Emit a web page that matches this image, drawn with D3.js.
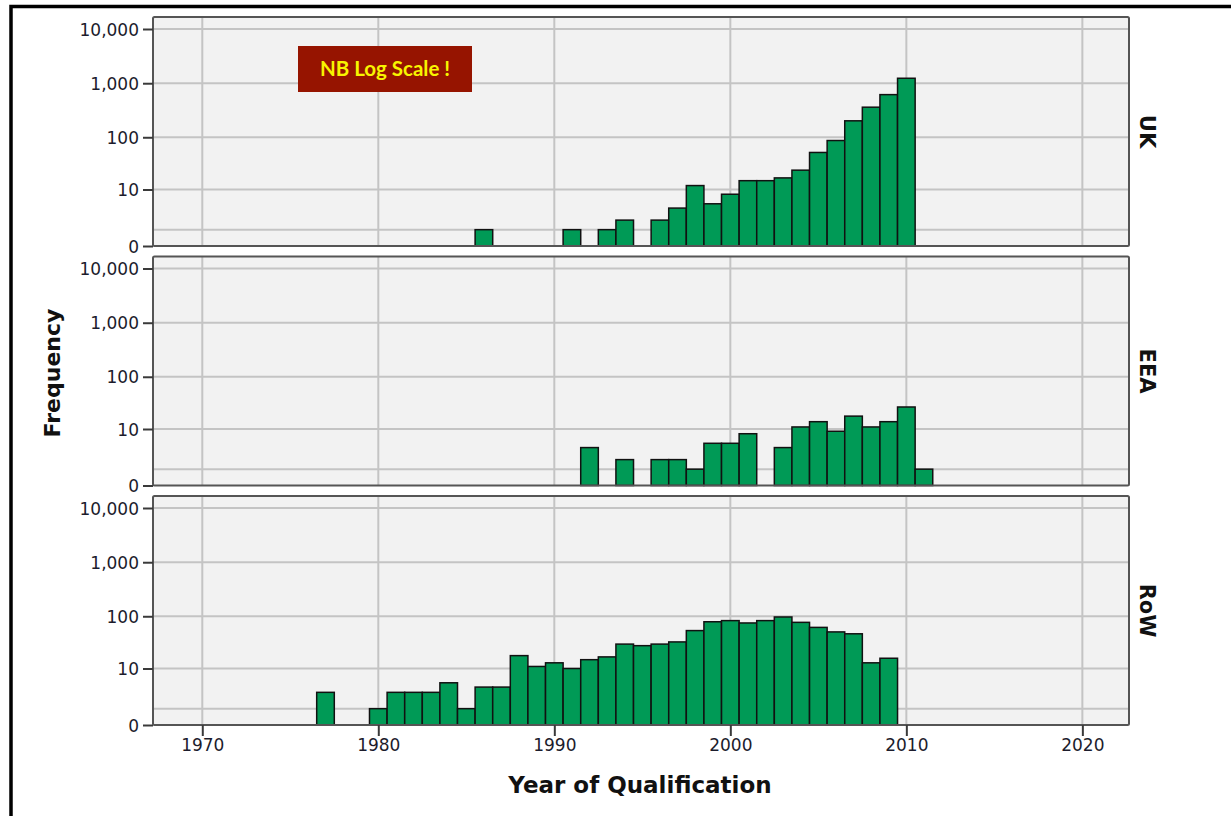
<!DOCTYPE html>
<html>

<head>
  <meta charset="utf-8">
  <title>Year of Qualification</title>
  <style>
    body {
      margin: 0;
      background: #fff;
      font-family: "DejaVu Sans", sans-serif;
    }

    .grid line {
      stroke: #c4c4c4;
      stroke-width: 2;
    }

    .bar {
      fill: #009a56;
      stroke: #111;
      stroke-width: 1.5;
    }

    .axis text {
      font-family: "DejaVu Sans", sans-serif;
      font-size: 17px;
      fill: #1c1c2c;
    }

    .axis line,
    .axis path {
      stroke: #3a3a3a;
      stroke-width: 2;
    }
  </style>
  <script src="https://d3js.org/d3.v7.min.js"></script>
</head>

<body>
  <div id="chart"></div>

  <script>
    // data (count of people per year of qualification)
    var years = [1977, 1978, 1979, 1980, 1981, 1982, 1983, 1984, 1985, 1986,
      1987, 1988, 1989, 1990, 1991, 1992, 1993, 1994, 1995, 1996,
      1997, 1998, 1999, 2000, 2001, 2002, 2003, 2004, 2005, 2006,
      2007, 2008, 2009, 2010, 2011];

    var ukCounts = [0, 0, 0, 0, 0, 0, 0, 0, 0, 1,
      0, 0, 0, 0, 1, 0, 1, 2, 0, 2,
      4, 12, 5, 8, 15, 15, 17, 24, 52, 87,
      202, 361, 616, 1235, 0];

    var eeaCounts = [0, 0, 0, 0, 0, 0, 0, 0, 0, 0,
      0, 0, 0, 0, 0, 4, 0, 2, 0, 2,
      2, 1, 5, 5, 8, 0, 4, 11, 14, 9,
      18, 11, 14, 27, 1];

    var rowCounts = [3, 0, 0, 1, 3, 3, 3, 5, 1, 4,
      4, 18, 11, 13, 10, 15, 17, 30, 28, 30,
      33, 54, 79, 83, 75, 83, 97, 77, 62, 51,
      47, 13, 16, 0, 0];

    var panelNames = ["UK", "EEA", "RoW"];
    var panelCounts = [ukCounts, eeaCounts, rowCounts];

    var yTicks = [0, 10, 100, 1000, 10000];
    var yGrid = [1, 10, 100, 1000, 10000];
    var xTicks = [1970, 1980, 1990, 2000, 2010, 2020];

    // layout
    var width = 1231,
      height = 816,
      plotLeft = 153,
      plotRight = 1129,
      panelTop = 17,
      panelStep = 239.5,
      panelH = 229;

    var svg = d3.select("#chart").append("svg")
      .attr("width", width)
      .attr("height", height);

    // outer frame (only its left and top edges are in view)
    svg.append("rect")
      .attr("x", 11)
      .attr("y", 6.5)
      .attr("width", 1400)
      .attr("height", 1000)
      .attr("fill", "none")
      .attr("stroke", "#000")
      .attr("stroke-width", 3.5);

    var x = d3.scaleLinear()
      .domain([1967.2, 2022.65])
      .range([plotLeft, plotRight]);

    // "safe log" scale: log(1 + n)
    var y = d3.scaleSymlog()
      .constant(1)
      .domain([0, 10000])
      .range([panelH, 12]);

    var fmt = d3.format(",");

    panelNames.forEach(function (name, i) {
      var counts = panelCounts[i];
      var g = svg.append("g")
        .attr("transform", "translate(0," + (panelTop + i * panelStep) + ")");

      // panel background
      g.append("rect")
        .attr("x", plotLeft)
        .attr("y", 0)
        .attr("width", plotRight - plotLeft)
        .attr("height", panelH)
        .attr("fill", "#f2f2f2");

      // grid lines
      var grid = g.append("g").attr("class", "grid");
      grid.selectAll(".gx")
        .data(xTicks)
        .enter().append("line")
        .attr("x1", function (d) { return x(d); })
        .attr("x2", function (d) { return x(d); })
        .attr("y1", 0)
        .attr("y2", panelH);
      grid.selectAll(".gy")
        .data(yGrid)
        .enter().append("line")
        .attr("x1", plotLeft)
        .attr("x2", plotRight)
        .attr("y1", function (d) { return y(d); })
        .attr("y2", function (d) { return y(d); });

      // bars, one per year bin
      var rows = years.map(function (yr, j) { return { year: yr, n: counts[j] }; })
        .filter(function (d) { return d.n > 0; });

      g.selectAll(".bar")
        .data(rows)
        .enter().append("rect")
        .attr("class", "bar")
        .attr("x", function (d) { return x(d.year - 0.5); })
        .attr("width", function (d) { return x(d.year + 0.5) - x(d.year - 0.5); })
        .attr("y", function (d) { return y(d.n); })
        .attr("height", function (d) { return y(0) - y(d.n); });

      // panel border
      g.append("rect")
        .attr("x", plotLeft)
        .attr("y", 0)
        .attr("width", plotRight - plotLeft)
        .attr("height", panelH)
        .attr("rx", 1.5)
        .attr("fill", "none")
        .attr("stroke", "#555")
        .attr("stroke-width", 2);

      // y axis
      var yAxis = g.append("g")
        .attr("class", "axis")
        .attr("transform", "translate(" + plotLeft + ",0)")
        .call(d3.axisLeft(y).tickValues(yTicks).tickFormat(fmt).tickSize(10).tickPadding(4));
      yAxis.select(".domain").remove();
      yAxis.selectAll("text").attr("dy", "0.36em");

      // facet label on the right
      g.append("text")
        .attr("transform", "translate(1140," + (panelH / 2) + ") rotate(90)")
        .attr("text-anchor", "middle")
        .style("font-size", "21px")
        .style("font-weight", "bold")
        .attr("fill", "#111")
        .text(name);

      // x axis only under the last panel
      if (i === panelNames.length - 1) {
        var xAxis = g.append("g")
          .attr("class", "axis")
          .attr("transform", "translate(0," + panelH + ")")
          .call(d3.axisBottom(x).tickValues(xTicks).tickFormat(d3.format("d")).tickSize(11).tickPadding(3));
        xAxis.select(".domain").remove();
      }
    });

    // note box
    var note = svg.append("g").attr("transform", "translate(298,46)");
    note.append("rect")
      .attr("width", 174)
      .attr("height", 46)
      .attr("fill", "#961400");
    note.append("text")
      .attr("x", 87)
      .attr("y", 30)
      .attr("text-anchor", "middle")
      .style("font-family", "Lato, 'Open Sans', sans-serif")
      .style("font-weight", "bold")
      .style("font-size", "20.5px")
      .attr("fill", "#f8f400")
      .text("NB Log Scale !");

    // axis titles
    svg.append("text")
      .attr("transform", "translate(60,373) rotate(-90)")
      .attr("text-anchor", "middle")
      .style("font-size", "22px")
      .style("font-weight", "bold")
      .attr("fill", "#111")
      .text("Frequency");

    svg.append("text")
      .attr("x", 640)
      .attr("y", 793)
      .attr("text-anchor", "middle")
      .style("font-size", "23px")
      .style("font-weight", "bold")
      .attr("fill", "#111")
      .text("Year of Qualification");
  </script>
</body>

</html>
